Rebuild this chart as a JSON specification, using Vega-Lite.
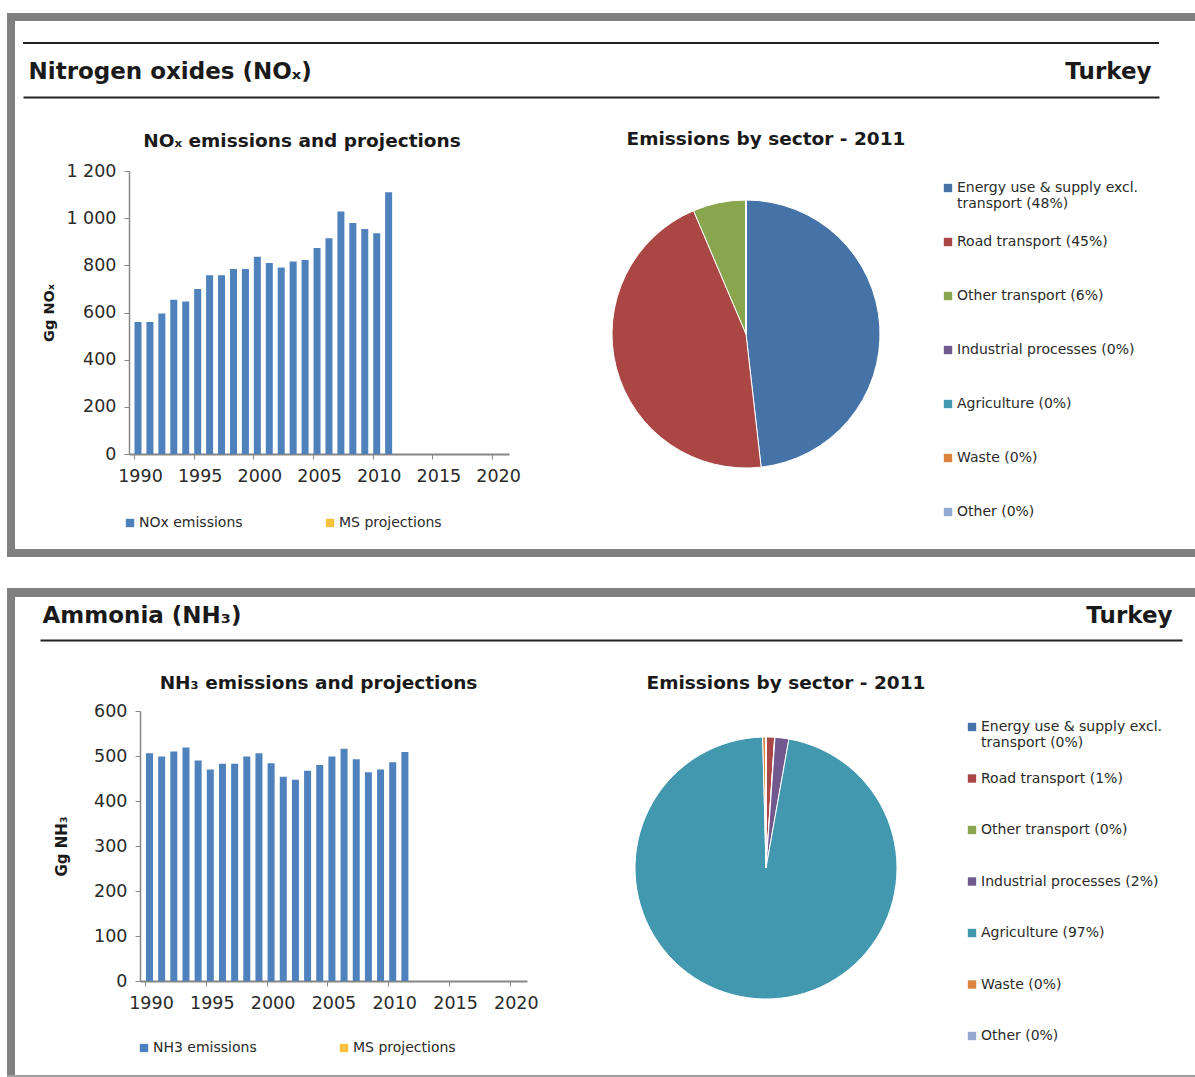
{
  "$schema": "https://vega.github.io/schema/vega-lite/v6.json",
  "padding": {"left": 7, "top": 13, "right": 0, "bottom": 0},
  "background": "white",
  "config": {
    "view": {"stroke": null},
    "font": "DejaVu Sans",
    "concat": {"spacing": 0},
    "axis": {"domainColor": "#868686", "tickColor": "#868686", "labelColor": "#2a2a2a", "titleColor": "#1a1a1a", "grid": false, "labelFont": "DejaVu Sans", "titleFont": "DejaVu Sans"},
    "legend": {"labelFont": "DejaVu Sans", "labelColor": "#2a2a2a"},
    "title": {"font": "DejaVu Sans", "color": "#1a1a1a", "fontWeight": "bold"}
  },
  "datasets": {
    "frame": [{"v": 0}],
    "nox_trend": [
      {"year": 1990, "emissions": 560, "series": "NOx emissions"},
      {"year": 1991, "emissions": 560, "series": "NOx emissions"},
      {"year": 1992, "emissions": 596, "series": "NOx emissions"},
      {"year": 1993, "emissions": 654, "series": "NOx emissions"},
      {"year": 1994, "emissions": 647, "series": "NOx emissions"},
      {"year": 1995, "emissions": 700, "series": "NOx emissions"},
      {"year": 1996, "emissions": 758, "series": "NOx emissions"},
      {"year": 1997, "emissions": 758, "series": "NOx emissions"},
      {"year": 1998, "emissions": 784, "series": "NOx emissions"},
      {"year": 1999, "emissions": 784, "series": "NOx emissions"},
      {"year": 2000, "emissions": 836, "series": "NOx emissions"},
      {"year": 2001, "emissions": 810, "series": "NOx emissions"},
      {"year": 2002, "emissions": 791, "series": "NOx emissions"},
      {"year": 2003, "emissions": 816, "series": "NOx emissions"},
      {"year": 2004, "emissions": 823, "series": "NOx emissions"},
      {"year": 2005, "emissions": 874, "series": "NOx emissions"},
      {"year": 2006, "emissions": 915, "series": "NOx emissions"},
      {"year": 2007, "emissions": 1028, "series": "NOx emissions"},
      {"year": 2008, "emissions": 980, "series": "NOx emissions"},
      {"year": 2009, "emissions": 954, "series": "NOx emissions"},
      {"year": 2010, "emissions": 936, "series": "NOx emissions"},
      {"year": 2011, "emissions": 1110, "series": "NOx emissions"}
    ],
    "nh3_trend": [
      {"year": 1990, "emissions": 506, "series": "NH3 emissions"},
      {"year": 1991, "emissions": 499, "series": "NH3 emissions"},
      {"year": 1992, "emissions": 510, "series": "NH3 emissions"},
      {"year": 1993, "emissions": 519, "series": "NH3 emissions"},
      {"year": 1994, "emissions": 490, "series": "NH3 emissions"},
      {"year": 1995, "emissions": 470, "series": "NH3 emissions"},
      {"year": 1996, "emissions": 483, "series": "NH3 emissions"},
      {"year": 1997, "emissions": 483, "series": "NH3 emissions"},
      {"year": 1998, "emissions": 499, "series": "NH3 emissions"},
      {"year": 1999, "emissions": 506, "series": "NH3 emissions"},
      {"year": 2000, "emissions": 484, "series": "NH3 emissions"},
      {"year": 2001, "emissions": 454, "series": "NH3 emissions"},
      {"year": 2002, "emissions": 447, "series": "NH3 emissions"},
      {"year": 2003, "emissions": 467, "series": "NH3 emissions"},
      {"year": 2004, "emissions": 480, "series": "NH3 emissions"},
      {"year": 2005, "emissions": 499, "series": "NH3 emissions"},
      {"year": 2006, "emissions": 516, "series": "NH3 emissions"},
      {"year": 2007, "emissions": 493, "series": "NH3 emissions"},
      {"year": 2008, "emissions": 464, "series": "NH3 emissions"},
      {"year": 2009, "emissions": 470, "series": "NH3 emissions"},
      {"year": 2010, "emissions": 486, "series": "NH3 emissions"},
      {"year": 2011, "emissions": 509, "series": "NH3 emissions"}
    ],
    "nox_sector": [
      {"sector": "Energy use & supply excl. transport (48%)", "share": 48.2, "rank": 1},
      {"sector": "Road transport (45%)", "share": 45.4, "rank": 2},
      {"sector": "Other transport (6%)", "share": 6.4, "rank": 3},
      {"sector": "Industrial processes (0%)", "share": 0, "rank": 4},
      {"sector": "Agriculture  (0%)", "share": 0, "rank": 5},
      {"sector": "Waste (0%)", "share": 0, "rank": 6},
      {"sector": "Other (0%)", "share": 0, "rank": 7}
    ],
    "nh3_sector": [
      {"sector": "Energy use & supply excl. transport (0%)", "share": 0.05, "rank": 1},
      {"sector": "Road transport (1%)", "share": 1.0, "rank": 2},
      {"sector": "Other transport (0%)", "share": 0.05, "rank": 3},
      {"sector": "Industrial processes (2%)", "share": 1.7, "rank": 4},
      {"sector": "Agriculture  (97%)", "share": 96.8, "rank": 5},
      {"sector": "Waste (0%)", "share": 0.35, "rank": 6},
      {"sector": "Other (0%)", "share": 0.05, "rank": 7}
    ]
  },
  "resolve": {"scale": {"color": "independent"}, "legend": {"color": "independent"}},
  "spacing": 31,
  "vconcat": [
    {
      "spacing": 0,
      "resolve": {"scale": {"color": "independent"}, "legend": {"color": "independent"}},
      "vconcat": [
        {"width": 1188, "height": 8, "data": {"name": "frame"}, "mark": {"type": "point", "opacity": 0, "size": 0},
         "encoding": {"x": {"field": "v", "type": "quantitative", "axis": null}, "y": {"field": "v", "type": "quantitative", "axis": null}},
         "view": {"fill": "#808080", "stroke": null}},
        {
          "spacing": 7,
          "resolve": {"scale": {"color": "independent"}, "legend": {"color": "independent"}},
          "hconcat": [
            {"width": 8, "height": 528, "data": {"name": "frame"}, "mark": {"type": "point", "opacity": 0, "size": 0},
             "encoding": {"x": {"field": "v", "type": "quantitative", "axis": null}, "y": {"field": "v", "type": "quantitative", "axis": null}},
             "view": {"fill": "#808080", "stroke": null}},
            {
              "spacing": 31,
              "resolve": {"scale": {"color": "independent"}, "legend": {"color": "independent"}},
              "vconcat": [
                {
                  "spacing": 0,
                  "vconcat": [
                    {"width": 1, "height": 21, "data": {"name": "frame"}, "mark": {"type": "point", "opacity": 0, "size": 0},
                     "encoding": {"x": {"field": "v", "type": "quantitative", "axis": null}, "y": {"field": "v", "type": "quantitative", "axis": null}}},
                    {
                      "width": 1136, "height": 54,
                      "data": {"name": "frame"},
                      "mark": {"type": "point", "opacity": 0, "size": 0},
                      "view": {"stroke": "#222222", "strokeWidth": 2, "strokeDash": [1136, 1244]},
                      "encoding": {
                        "x": {"field": "v", "type": "quantitative", "scale": {"domain": [0, 1]},
                          "axis": {"domain": true, "domainColor": "#222222", "domainWidth": 2, "labels": false, "ticks": false, "title": "Turkey", "titleFontSize": 23, "titleFontWeight": "bold", "titleColor": "#1a1a1a", "titleX": 1128, "titleY": -26, "titleAlign": "right", "titleBaseline": "middle"}},
                        "y": {"field": "v", "type": "quantitative", "scale": {"domain": [0, 1]},
                          "axis": {"domain": false, "labels": false, "ticks": false, "title": "Nitrogen oxides (NOₓ)", "titleAngle": 0, "titleX": 5, "titleY": 28, "titleAlign": "left", "titleBaseline": "middle", "titleFontSize": 23, "titleFontWeight": "bold", "titleColor": "#1a1a1a"}}
                      }
                    }
                  ]
                },
                {
                  "spacing": 0,
                  "resolve": {"scale": {"color": "independent"}, "legend": {"color": "independent"}},
                  "hconcat": [
                    {"width": 18, "height": 1, "data": {"name": "frame"}, "mark": {"type": "point", "opacity": 0, "size": 0},
                     "encoding": {"x": {"field": "v", "type": "quantitative", "axis": null}, "y": {"field": "v", "type": "quantitative", "axis": null}}},
                    {
                      "spacing": 89,
                      "resolve": {"scale": {"color": "independent"}, "legend": {"color": "independent"}},
                      "hconcat": [
                        {
                          "width": 380, "height": 283,
                          "title": {"text": "NOₓ emissions and projections", "fontSize": 18.5, "dx": -17, "offset": 12},
                          "data": {"name": "nox_trend"},
                          "mark": {"type": "bar", "width": 7, "xOffset": 4},
                          "encoding": {
                            "x": {"field": "year", "type": "quantitative", "scale": {"domain": [1990, 2021], "nice": false, "zero": false},
                              "axis": {"values": [1990, 1995, 2000, 2005, 2010, 2015, 2020], "format": "d", "title": null, "labelFontSize": 17.5, "tickSize": 5, "labelPadding": 8, "labelOffset": 6, "domainWidth": 2, "labelFlush": false, "labelOverlap": false}},
                            "y": {"field": "emissions", "type": "quantitative", "scale": {"domain": [0, 1200], "nice": false},
                              "axis": {"values": [0, 200, 400, 600, 800, 1000, 1200], "labelExpr": "replace(format(datum.value, ','), ',', ' ')", "title": "Gg NOₓ", "titleFontSize": 14.5, "titleFontWeight": "bold", "titlePadding": 9, "labelFontSize": 17.5, "labelPadding": 8, "tickSize": 5, "domainWidth": 1.5}},
                            "color": {"field": "series", "type": "nominal", "scale": {"domain": ["NOx emissions", "MS projections"], "range": ["#4f81bd", "#f5c33b"]},
                              "legend": {"orient": "none", "legendX": -6, "legendY": 345, "direction": "horizontal", "title": null, "symbolType": "square", "symbolSize": 70, "symbolStrokeWidth": 0, "labelFontSize": 14, "columnPadding": 80, "labelOffset": 2}}
                          }
                        },
                        {
                          "width": 268, "height": 326,
                          "title": {"text": "Emissions by sector - 2011", "fontSize": 18.5, "dx": 20, "offset": 23},
                          "data": {"name": "nox_sector"},
                          "mark": {"type": "arc", "stroke": "#ffffff", "strokeWidth": 1},
                          "encoding": {
                            "theta": {"field": "share", "type": "quantitative"},
                            "order": {"field": "rank", "type": "quantitative"},
                            "color": {"field": "sector", "type": "nominal",
                              "scale": {"domain": ["Energy use & supply excl. transport (48%)", "Road transport (45%)", "Other transport (6%)", "Industrial processes (0%)", "Agriculture  (0%)", "Waste (0%)", "Other (0%)"], "range": ["#4572a7", "#aa4643", "#89a54e", "#71588f", "#4198af", "#db843d", "#93a9cf"]},
                              "legend": {"orient": "none", "legendX": 329, "legendY": 10, "title": null, "symbolType": "square", "symbolSize": 70, "symbolStrokeWidth": 0, "labelFontSize": 14, "labelLimit": 400, "gridAlign": "all", "rowPadding": 24, "labelOffset": 2,
                                "labelExpr": "indexof(datum.label, 'excl. ') > 0 ? [slice(datum.label, 0, 25), slice(datum.label, 26)] : datum.label"}}
                          }
                        }
                      ]
                    }
                  ]
                }
              ]
            }
          ]
        },
        {"width": 1188, "height": 8, "data": {"name": "frame"}, "mark": {"type": "point", "opacity": 0, "size": 0},
         "encoding": {"x": {"field": "v", "type": "quantitative", "axis": null}, "y": {"field": "v", "type": "quantitative", "axis": null}},
         "view": {"fill": "#808080", "stroke": null}}
      ]
    },
    {
      "spacing": 0,
      "resolve": {"scale": {"color": "independent"}, "legend": {"color": "independent"}},
      "vconcat": [
        {"width": 1188, "height": 9, "data": {"name": "frame"}, "mark": {"type": "point", "opacity": 0, "size": 0},
         "encoding": {"x": {"field": "v", "type": "quantitative", "axis": null}, "y": {"field": "v", "type": "quantitative", "axis": null}},
         "view": {"fill": "#808080", "stroke": null}},
        {
          "spacing": 25,
          "resolve": {"scale": {"color": "independent"}, "legend": {"color": "independent"}},
          "hconcat": [
            {"width": 8, "height": 478, "data": {"name": "frame"}, "mark": {"type": "point", "opacity": 0, "size": 0},
             "encoding": {"x": {"field": "v", "type": "quantitative", "axis": null}, "y": {"field": "v", "type": "quantitative", "axis": null}},
             "view": {"fill": "#808080", "stroke": null}},
            {
              "spacing": 33,
              "resolve": {"scale": {"color": "independent"}, "legend": {"color": "independent"}},
              "vconcat": [
                {
                  "width": 1142, "height": 43,
                  "data": {"name": "frame"},
                  "mark": {"type": "point", "opacity": 0, "size": 0},
                  "encoding": {
                    "x": {"field": "v", "type": "quantitative", "scale": {"domain": [0, 1]},
                      "axis": {"domain": true, "domainColor": "#222222", "domainWidth": 2, "labels": false, "ticks": false, "title": "Turkey", "titleFontSize": 23, "titleFontWeight": "bold", "titleColor": "#1a1a1a", "titleX": 1132, "titleY": -25, "titleAlign": "right", "titleBaseline": "middle"}},
                    "y": {"field": "v", "type": "quantitative", "scale": {"domain": [0, 1]},
                      "axis": {"domain": false, "labels": false, "ticks": false, "title": "Ammonia (NH₃)", "titleAngle": 0, "titleX": 2, "titleY": 18, "titleAlign": "left", "titleBaseline": "middle", "titleFontSize": 23, "titleFontWeight": "bold", "titleColor": "#1a1a1a"}}
                  }
                },
                {
                  "spacing": 0,
                  "resolve": {"scale": {"color": "independent"}, "legend": {"color": "independent"}},
                  "hconcat": [
                    {"width": 14, "height": 1, "data": {"name": "frame"}, "mark": {"type": "point", "opacity": 0, "size": 0},
                     "encoding": {"x": {"field": "v", "type": "quantitative", "axis": null}, "y": {"field": "v", "type": "quantitative", "axis": null}}},
                    {
                      "spacing": 94,
                      "resolve": {"scale": {"color": "independent"}, "legend": {"color": "independent"}},
                      "hconcat": [
                        {
                          "width": 387, "height": 270,
                          "title": {"text": "NH₃ emissions and projections", "fontSize": 18.5, "dx": -15, "offset": 10},
                          "data": {"name": "nh3_trend"},
                          "mark": {"type": "bar", "width": 7, "xOffset": 4.5},
                          "encoding": {
                            "x": {"field": "year", "type": "quantitative", "scale": {"domain": [1990, 2021], "nice": false, "zero": false},
                              "axis": {"values": [1990, 1995, 2000, 2005, 2010, 2015, 2020], "format": "d", "title": null, "labelFontSize": 17.5, "tickSize": 5, "labelPadding": 8, "labelOffset": 6, "domainWidth": 2, "labelFlush": false, "labelOverlap": false}},
                            "y": {"field": "emissions", "type": "quantitative", "scale": {"domain": [0, 600], "nice": false},
                              "axis": {"values": [0, 100, 200, 300, 400, 500, 600], "title": "Gg NH₃", "titleFontSize": 15, "titleFontWeight": "bold", "titlePadding": 24, "labelFontSize": 17.5, "labelPadding": 8, "tickSize": 5, "domainWidth": 1.5}},
                            "color": {"field": "series", "type": "nominal", "scale": {"domain": ["NH3 emissions", "MS projections"], "range": ["#4f81bd", "#f5c33b"]},
                              "legend": {"orient": "none", "legendX": -3, "legendY": 330, "direction": "horizontal", "title": null, "symbolType": "square", "symbolSize": 70, "symbolStrokeWidth": 0, "labelFontSize": 14, "columnPadding": 80, "labelOffset": 2}}
                          }
                        },
                        {
                          "width": 262, "height": 314,
                          "title": {"text": "Emissions by sector - 2011", "fontSize": 18.5, "dx": 20, "offset": 19},
                          "data": {"name": "nh3_sector"},
                          "mark": {"type": "arc", "stroke": "#ffffff", "strokeWidth": 1},
                          "encoding": {
                            "theta": {"field": "share", "type": "quantitative"},
                            "order": {"field": "rank", "type": "quantitative"},
                            "color": {"field": "sector", "type": "nominal",
                              "scale": {"domain": ["Energy use & supply excl. transport (0%)", "Road transport (1%)", "Other transport (0%)", "Industrial processes (2%)", "Agriculture  (97%)", "Waste (0%)", "Other (0%)"], "range": ["#4572a7", "#aa4643", "#89a54e", "#71588f", "#4198af", "#db843d", "#93a9cf"]},
                              "legend": {"orient": "none", "legendX": 330, "legendY": 9, "title": null, "symbolType": "square", "symbolSize": 70, "symbolStrokeWidth": 0, "labelFontSize": 14, "labelLimit": 400, "gridAlign": "all", "rowPadding": 21.5, "labelOffset": 2,
                                "labelExpr": "indexof(datum.label, 'excl. ') > 0 ? [slice(datum.label, 0, 25), slice(datum.label, 26)] : datum.label"}}
                          }
                        }
                      ]
                    }
                  ]
                }
              ]
            }
          ]
        },
        {"width": 1188, "height": 2, "data": {"name": "frame"}, "mark": {"type": "point", "opacity": 0, "size": 0},
         "encoding": {"x": {"field": "v", "type": "quantitative", "axis": null}, "y": {"field": "v", "type": "quantitative", "axis": null}},
         "view": {"fill": "#a0a0a0", "stroke": null}}
      ]
    }
  ]
}
